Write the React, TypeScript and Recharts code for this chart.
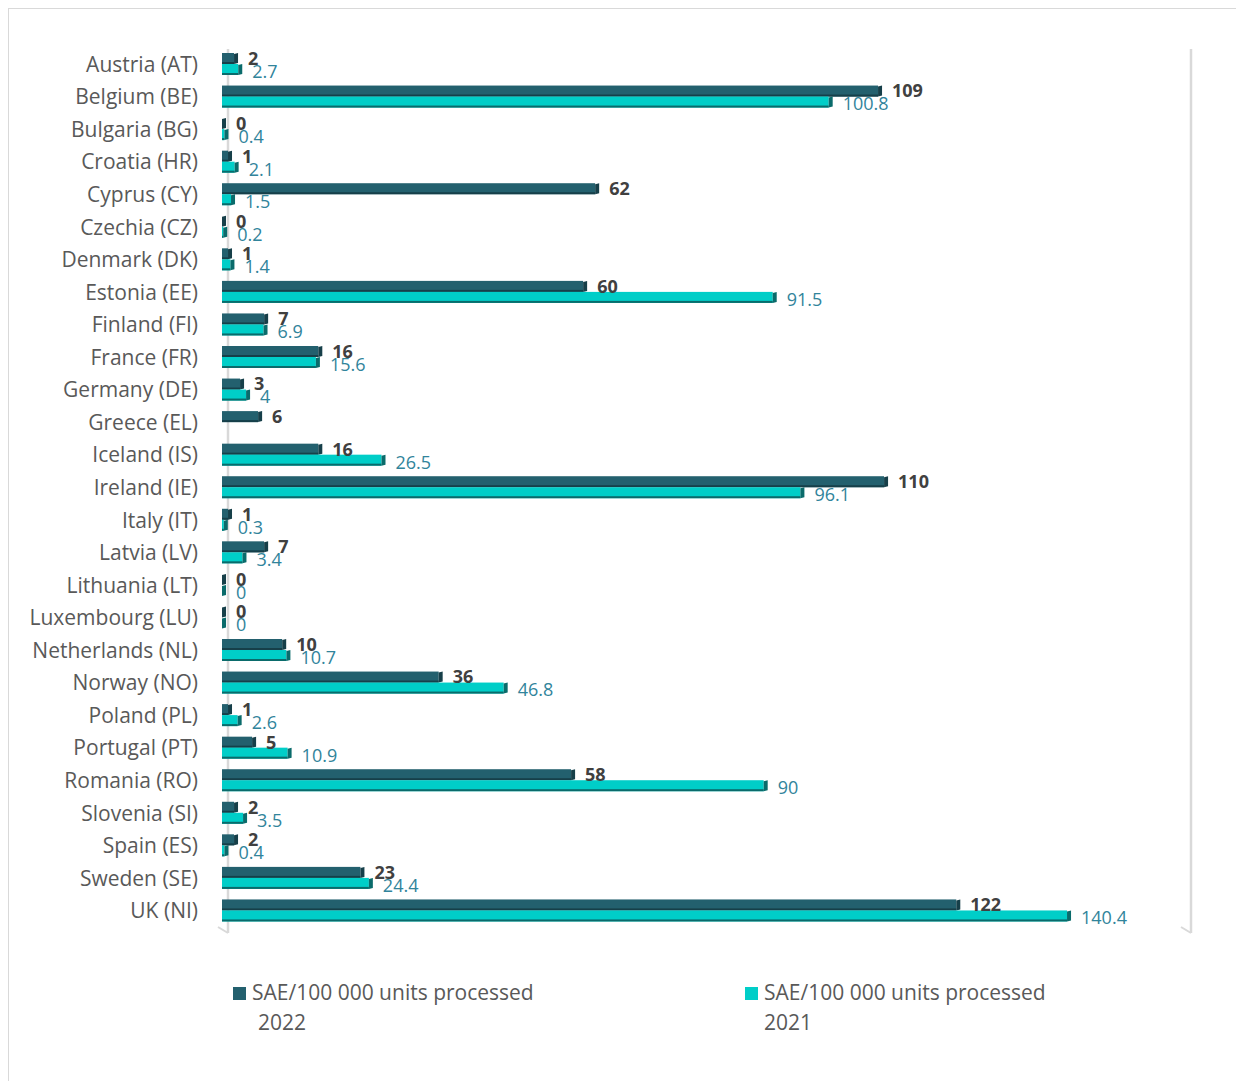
import { BarChart, Bar, XAxis, YAxis, CartesianGrid, LabelList, Legend } from "recharts";

const countries = [
  "Austria (AT)", "Belgium (BE)", "Bulgaria (BG)", "Croatia (HR)", "Cyprus (CY)",
  "Czechia (CZ)", "Denmark (DK)", "Estonia (EE)", "Finland (FI)", "France (FR)",
  "Germany (DE)", "Greece (EL)", "Iceland (IS)", "Ireland (IE)", "Italy (IT)",
  "Latvia (LV)", "Lithuania (LT)", "Luxembourg (LU)", "Netherlands (NL)", "Norway (NO)",
  "Poland (PL)", "Portugal (PT)", "Romania (RO)", "Slovenia (SI)", "Spain (ES)",
  "Sweden (SE)", "UK (NI)",
];
const sae2022 = [2, 109, 0, 1, 62, 0, 1, 60, 7, 16, 3, 6, 16, 110, 1, 7, 0, 0, 10, 36, 1, 5, 58, 2, 2, 23, 122];
const sae2021 = [2.7, 100.8, 0.4, 2.1, 1.5, 0.2, 1.4, 91.5, 6.9, 15.6, 4, null, 26.5, 96.1, 0.3, 3.4, 0, 0, 10.7, 46.8, 2.6, 10.9, 90, 3.5, 0.4, 24.4, 140.4];
const xTicks = [0, 20, 40, 60, 80, 100, 120, 140, 160];

const data = countries.map((name, i) => ({ name, y2022: sae2022[i], y2021: sae2021[i] }));

const DARK = "#23606e";
const DARK_SIDE = "#163f49";
const CYAN = "#00cec8";
const CYAN_SIDE = "#0a6b6b";
const FONT = "'Open Sans', 'Liberation Sans', sans-serif";

// bar with a small fake 3D side, like the Excel original
const make3D = (fill: string, side: string) => (props: any) => {
  const { x, y, width, height } = props;
  if (x == null || y == null || !Number.isFinite(width)) return <g />;
  const w = Math.max(width, 0);
  return (
    <g>
      <rect x={x} y={y} width={w} height={height} fill={fill} />
      <rect x={x} y={y + height - 2} width={w} height={2} fill={side} />
      <polygon
        points={`${x + w},${y + 1} ${x + w + 4},${y} ${x + w + 4},${y + height - 1} ${x + w},${y + height}`}
        fill={side}
      />
    </g>
  );
};

// vertical grid with the little perspective foot at the bottom
const gridLine = (props: any) => {
  const { x1, y1, y2 } = props;
  const gx = x1 + 6;
  return (
    <g key={props.key}>
      <line x1={gx} y1={y1 + 1} x2={gx} y2={y2 + 6} stroke="#d9d9d9" strokeWidth={2.5} />
      <line x1={gx} y1={y2 + 6} x2={gx - 10} y2={y2} stroke="#d9d9d9" strokeWidth={2} />
    </g>
  );
};

const LegendBox = () => (
  <div style={{ position: "relative", height: 70, fontFamily: FONT, fontSize: 21, color: "#595959" }}>
    {[
      { color: DARK, label: "2022", left: 224 },
      { color: CYAN, label: "2021", left: 736 },
    ].map((it) => (
      <div key={it.label} style={{ position: "absolute", left: it.left, top: 0, lineHeight: "30px", whiteSpace: "nowrap" }}>
        <span style={{ display: "inline-block", width: 13, height: 13, background: it.color, marginRight: 6 }} />
        SAE/100 000 units processed
        <div style={{ marginLeft: it.label === "2022" ? 25 : 19 }}>{it.label}</div>
      </div>
    ))}
  </div>
);

export default function App() {
  return (
    <div style={{ width: 1236, height: 1072, borderLeft: "1px solid #d9d9d9", borderTop: "1px solid #d9d9d9", background: "#fff" }}>
      <BarChart
        width={1236}
        height={1072}
        data={data}
        layout="vertical"
        margin={{ top: 39, right: 60, bottom: 84, left: 0 }}
        barGap={0}
        barCategoryGap={10}
      >
        <CartesianGrid horizontal={false} vertical={gridLine} />
        <XAxis type="number" domain={[0, 160]} ticks={xTicks} tick={false} tickLine={false} axisLine={false} height={0} />
        <YAxis
          type="category"
          dataKey="name"
          width={213}
          tickLine={false}
          axisLine={false}
          tickSize={0}
          tickMargin={24}
          interval={0}
          tick={{ fill: "#595959", fontSize: 21, fontFamily: FONT }}
        />
        <Legend
          content={<LegendBox />}
          wrapperStyle={{ position: "absolute", top: 968, left: 0, width: 1236 }}
        />
        <Bar dataKey="y2022" barSize={11} fill={DARK} shape={make3D(DARK, DARK_SIDE)} isAnimationActive={false}>
          <LabelList dataKey="y2022" position="right" offset={14} fill="#404040" fontWeight="bold" fontSize={18} fontFamily={FONT} />
        </Bar>
        <Bar dataKey="y2021" barSize={11} fill={CYAN} shape={make3D(CYAN, CYAN_SIDE)} isAnimationActive={false}>
          <LabelList dataKey="y2021" position="right" offset={14} dy={2} fill="#31849b" fontSize={18} fontFamily={FONT} />
        </Bar>
      </BarChart>
    </div>
  );
}
